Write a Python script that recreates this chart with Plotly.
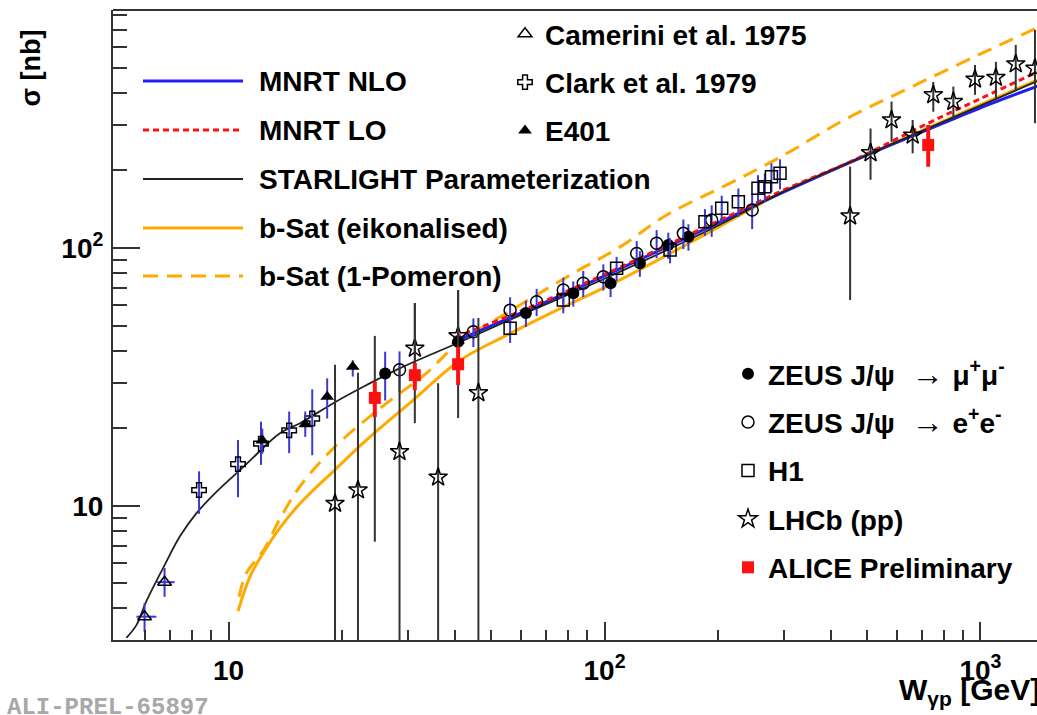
import plotly.graph_objects as go

# ---------------- data ----------------
# theory curves
starlight_w = [5.35, 5.69, 6.04, 6.70, 7.42, 8.21, 9.10, 11.1, 13.7, 15.5, 19.0, 23.3, 28.6, 41.3, 60, 100, 200, 293, 500, 1000, 1420]
starlight_s = [3.07, 3.44, 4.24, 5.73, 7.59, 9.34, 11.0, 14.4, 19.1, 20.9, 25.0, 29.4, 34.2, 43.2, 55, 76, 122, 163, 230, 357, 445]

mnrt_nlo_w = [41, 60, 100, 200, 300, 500, 700, 1000, 1420]
mnrt_nlo_s = [44, 56, 78, 125, 165, 230, 282, 350, 425]

mnrt_lo_w = [40, 60, 100, 200, 300, 450, 726, 1000, 1420]
mnrt_lo_s = [45, 57, 79, 127, 168, 216, 305, 380, 483]

bsat_eik_w = [10.6, 11.4, 12.4, 13.7, 15.5, 19.0, 23.3, 31.0, 41.3, 55, 74.7, 110, 200, 293, 500, 1000, 1413]
bsat_eik_s = [3.9, 5.3, 6.6, 8.2, 10.2, 13.6, 18.0, 25.7, 36.7, 45.9, 57.4, 75.2, 120, 163, 230, 360, 448]

bsat_1p_w = [10.67, 11.15, 12.4, 13.7, 15.5, 19.0, 25.3, 33.6, 40.4, 59.6, 82.6, 110, 146, 220, 293, 441, 662, 997, 1413]
bsat_1p_s = [4.43, 5.47, 6.73, 8.9, 11.9, 16.7, 23.9, 32.7, 42.1, 60.1, 79.8, 101, 134, 181, 225, 318, 425, 565, 715]

# data points
camerini_w = [5.98, 6.76]
camerini_s = [3.71, 5.05]
camerini_eup = [0.48, 0.68]
camerini_edn = [0.47, 0.62]
camerini_wup = [0.45, 0.43]
camerini_wdn = [0.29, 0.33]

clark_w = [8.35, 10.6, 12.2, 14.5, 16.7]
clark_s = [11.5, 14.5, 17.4, 19.6, 21.8]
clark_eup = [2.1, 3.5, 3.8, 3.6, 6.5]
clark_edn = [2.2, 3.7, 3.0, 3.6, 6.1]

e401_w = [12.3, 16.0, 18.3, 21.4]
e401_s = [17.9, 20.7, 26.5, 34.6]
e401_eup = [2.0, 2.5, 4.7, 2.1]
e401_edn = [2.0, 2.2, 4.7, 2.9]

zeus_mu_w = [26.1, 40.8, 61.8, 82.6, 103.8, 124.2, 147.8, 167.2]
zeus_mu_s = [32.6, 43.3, 55.9, 66.7, 73.0, 87.3, 102.7, 110.6]
zeus_mu_e = [7.0, 5.0, 6.5, 7.5, 8.5, 10, 12, 13]

zeus_ee_w = [28.5, 44.8, 56.1, 66.0, 77.7, 87.8, 99.3, 121.8, 137.6, 162.1, 192.8, 247]
zeus_ee_s = [33.7, 47.3, 57.4, 61.9, 68.7, 73.0, 77.4, 95.3, 104.3, 114, 128.5, 140.4]
zeus_ee_e = [6.0, 6.0, 7.0, 7.5, 8.0, 8.5, 9.0, 11, 13, 15, 18, 22]

h1_w = [56.1, 77.7, 107.7, 149.4, 185, 205, 227, 256, 267, 278, 293]
h1_s = [48.8, 62.8, 83.4, 98.2, 126.5, 142.6, 151.3, 170.6, 173, 189.1, 194.9]
h1_e = [6, 7, 9, 11, 15, 17, 19, 21, 22, 24, 26]

lhcb_w = [19.2, 22.1, 28.5, 31.3, 36.1, 40.8, 46.2, 450, 510, 580, 660, 749, 847, 967, 1099, 1241, 1396]
lhcb_s = [10.2, 11.5, 16.2, 40.8, 12.9, 45.6, 27.4, 133, 234, 314, 274, 393, 370, 452, 459, 518, 498]
lhcb_hi = [35.2, 32.8, 34.6, 61.2, 29.9, 68.7, 53.5, 207, 291, 370, 314, 441, 423, 513, 528, 614, 702]
lhcb_lo = [0.5, 0.5, 0.5, 28.1, 0.5, 35.0, 0.5, 62.8, 184, 258, 233, 338, 314, 393, 381, 410, 305]

alice_w = [24.5, 31.3, 40.8, 726]
alice_s = [26.2, 32.1, 35.4, 251]
alice_stat_hi = [30.3, 35.8, 41.4, 300]
alice_stat_lo = [22.1, 28.1, 29.4, 207]
alice_tot_hi = [45.6, 61.2, 68.7, 300]
alice_tot_lo = [7.25, 20.9, 21.9, 207]

# ---------------- styling ----------------
FONT = "Liberation Sans, Arial, Helvetica, sans-serif"
BLUE = "#2020f0"
RED = "#ff1010"
ORANGE = "#ffaa00"
EBLUE = "#3a3ad0"
FRAME = "#333333"

fig = go.Figure()

def sub(a, b):
    return [x - y for x, y in zip(a, b)]

# curves
fig.add_trace(go.Scatter(x=bsat_1p_w, y=bsat_1p_s, mode="lines", line=dict(color=ORANGE, width=3, dash="15px,9px"),
                         line_shape="spline", showlegend=False, hoverinfo="skip"))
fig.add_trace(go.Scatter(x=bsat_eik_w, y=bsat_eik_s, mode="lines", line=dict(color=ORANGE, width=3),
                         line_shape="spline", showlegend=False, hoverinfo="skip"))
fig.add_trace(go.Scatter(x=mnrt_nlo_w, y=mnrt_nlo_s, mode="lines", line=dict(color=BLUE, width=3),
                         line_shape="spline", showlegend=False, hoverinfo="skip"))
fig.add_trace(go.Scatter(x=mnrt_lo_w, y=mnrt_lo_s, mode="lines", line=dict(color=RED, width=3, dash="6px,4px"),
                         line_shape="spline", showlegend=False, hoverinfo="skip"))
fig.add_trace(go.Scatter(x=starlight_w, y=starlight_s, mode="lines", line=dict(color="#222222", width=1.8),
                         line_shape="spline", showlegend=False, hoverinfo="skip"))

MK = 12
LEGFONT = dict(family=FONT, size=28, color="black", weight="bold")
# legend 2 (top centre)
fig.add_trace(go.Scatter(x=camerini_w, y=camerini_s, mode="markers", name="Camerini et al. 1975",
                         marker=dict(symbol="triangle-up-open", size=MK, color="black", line=dict(width=1.5)),
                         error_y=dict(type="data", symmetric=False, array=camerini_eup, arrayminus=camerini_edn,
                                      color=EBLUE, thickness=2, width=0),
                         error_x=dict(type="data", symmetric=False, array=camerini_wup, arrayminus=camerini_wdn,
                                      color=EBLUE, thickness=2, width=0),
                         legend="legend2", legendgroup="g1"))
fig.add_trace(go.Scatter(x=clark_w, y=clark_s, mode="markers", name="Clark et al. 1979",
                         marker=dict(symbol="cross-open", size=MK, color="black", line=dict(width=1.5)),
                         error_y=dict(type="data", symmetric=False, array=clark_eup, arrayminus=clark_edn,
                                      color=EBLUE, thickness=2, width=0),
                         legend="legend2", legendgroup="g2"))
fig.add_trace(go.Scatter(x=e401_w, y=e401_s, mode="markers", name="E401",
                         marker=dict(symbol="triangle-up", size=MK, color="black"),
                         error_y=dict(type="data", symmetric=False, array=e401_eup, arrayminus=e401_edn,
                                      color=EBLUE, thickness=2, width=0),
                         legend="legend2", legendgroup="g3"))

# legend 3 (right)
ARROW = "<span style='font-weight:normal;font-size:32px'> → </span>"
fig.add_trace(go.Scatter(x=zeus_mu_w, y=zeus_mu_s, mode="markers",
                         name="ZEUS J/ψ " + ARROW + "μ<sup>+</sup>μ<sup>-</sup>",
                         marker=dict(symbol="circle", size=12, color="black"),
                         error_y=dict(type="data", array=zeus_mu_e, color=EBLUE, thickness=2, width=0),
                         legend="legend3", legendgroup="h1"))
fig.add_trace(go.Scatter(x=zeus_ee_w, y=zeus_ee_s, mode="markers",
                         name="ZEUS J/ψ " + ARROW + "e<sup>+</sup>e<sup>-</sup>",
                         marker=dict(symbol="circle-open", size=12, color="black", line=dict(width=1.5)),
                         error_y=dict(type="data", array=zeus_ee_e, color=EBLUE, thickness=2, width=0),
                         legend="legend3", legendgroup="h2"))
fig.add_trace(go.Scatter(x=h1_w, y=h1_s, mode="markers", name="H1",
                         marker=dict(symbol="square-open", size=12, color="black", line=dict(width=1.5)),
                         error_y=dict(type="data", array=h1_e, color=EBLUE, thickness=2, width=0),
                         legend="legend3", legendgroup="h3"))
fig.add_trace(go.Scatter(x=lhcb_w, y=lhcb_s, mode="markers", name="LHCb (pp)",
                         marker=dict(symbol="star-open", size=14, color="black", line=dict(width=1.5)),
                         error_y=dict(type="data", symmetric=False, array=sub(lhcb_hi, lhcb_s),
                                      arrayminus=sub(lhcb_s, lhcb_lo), color="#333333", thickness=2, width=0),
                         legend="legend3", legendgroup="h4"))
fig.add_trace(go.Scatter(x=alice_w, y=alice_s, mode="markers", showlegend=False,
                         marker=dict(size=1, color="rgba(0,0,0,0)"),
                         error_y=dict(type="data", symmetric=False, array=sub(alice_tot_hi, alice_s),
                                      arrayminus=sub(alice_s, alice_tot_lo), color="#333333", thickness=2, width=0),
                         hoverinfo="skip"))
fig.add_trace(go.Scatter(x=alice_w, y=alice_s, mode="markers", name="ALICE Preliminary",
                         marker=dict(symbol="square", size=12, color=RED),
                         error_y=dict(type="data", symmetric=False, array=sub(alice_stat_hi, alice_s),
                                      arrayminus=sub(alice_s, alice_stat_lo), color=RED, thickness=4, width=0),
                         legend="legend3", legendgroup="h5"))

# ---------------- layout ----------------
W, H = 1037, 715
ML, MR, MT, MB = 113, 0, 10, 75
PW, PH = W - ML - MR, H - MT - MB

def px(xp):
    return (xp - ML) / PW

def py(yp):
    return (H - MB - yp) / PH

x_minor = [6, 7, 8, 9, 20, 30, 40, 50, 60, 70, 80, 90, 200, 300, 400, 500, 600, 700, 800, 900]
y_minor = [4, 5, 6, 7, 8, 9, 20, 30, 40, 50, 60, 70, 80, 90, 200, 300, 400, 500, 600, 700, 800]

tickfont = dict(family=FONT, size=28, color="black", weight="bold")

fig.update_layout(
    width=W, height=H,
    margin=dict(l=ML, r=MR, t=MT, b=MB, autoexpand=False),
    paper_bgcolor="white", plot_bgcolor="white",
    font=dict(family=FONT, color="black"),
    xaxis=dict(type="log", range=[0.6928, 3.1503], showgrid=False, zeroline=False, automargin=False,
               showline=True, linewidth=2, linecolor=FRAME, mirror=False,
               ticks="inside", ticklen=18, tickwidth=2, tickcolor=FRAME,
               tickvals=[10, 100, 1000], ticktext=["10", "10<sup>2</sup>", "10<sup>3</sup>"],
               tickfont=tickfont, ticklabelstandoff=4,
               minor=dict(tickvals=x_minor, ticks="inside", ticklen=10, tickwidth=2, tickcolor=FRAME, showgrid=False)),
    yaxis=dict(type="log", range=[0.4789, 2.9236], showgrid=False, zeroline=False, automargin=False,
               showline=True, linewidth=2, linecolor=FRAME, mirror=False,
               ticks="inside", ticklen=27, tickwidth=2, tickcolor=FRAME,
               tickvals=[10, 100], ticktext=["10", "10<sup>2</sup>"],
               tickfont=tickfont, ticklabelstandoff=2,
               minor=dict(tickvals=y_minor, ticks="inside", ticklen=14, tickwidth=2, tickcolor=FRAME, showgrid=False)),
    legend2=dict(x=px(505), y=py(9), xanchor="left", yanchor="top", bgcolor="rgba(0,0,0,0)",
                 font=LEGFONT, traceorder="grouped", tracegroupgap=9, itemclick=False),
    legend3=dict(x=px(728), y=py(349), xanchor="left", yanchor="top", bgcolor="rgba(0,0,0,0)",
                 font=LEGFONT, traceorder="grouped", tracegroupgap=9, itemclick=False),
    showlegend=True,
)

# top frame line
fig.add_shape(type="line", xref="paper", yref="paper", x0=0, x1=1, y0=1, y1=1,
              line=dict(color=FRAME, width=2))

# legend 1 (manual, lines)
leg1 = [
    ("MNRT NLO", dict(color=BLUE, width=3), 81),
    ("MNRT LO", dict(color=RED, width=3, dash="6px,4px"), 130),
    ("STARLIGHT Parameterization", dict(color="#222222", width=2), 179),
    ("b-Sat (eikonalised)", dict(color=ORANGE, width=3), 228),
    ("b-Sat (1-Pomeron)", dict(color=ORANGE, width=3, dash="15px,9px"), 276),
]
for label, ln, yp in leg1:
    fig.add_shape(type="line", xref="paper", yref="paper", x0=px(143), x1=px(243), y0=py(yp), y1=py(yp), line=ln)
    fig.add_annotation(text=label, xref="paper", yref="paper", x=px(257), y=py(yp), xanchor="left", yanchor="middle",
                       showarrow=False, font=LEGFONT)

# axis titles
fig.add_annotation(text="σ [nb]", xref="paper", yref="paper", x=px(30), y=py(28), xanchor="center", yanchor="top",
                   textangle=-90, showarrow=False, font=dict(family=FONT, size=27, color="black", weight="bold"))
fig.add_annotation(text="W<sub>γp</sub> [GeV]", xref="paper", yref="paper", x=px(1042), y=py(712),
                   xanchor="right", yanchor="bottom", showarrow=False,
                   font=dict(family=FONT, size=30, color="black", weight="bold"))
fig.add_annotation(text="ALI-PREL-65897", xref="paper", yref="paper", x=px(5), y=py(707), xanchor="left",
                   yanchor="middle", showarrow=False,
                   font=dict(family="Liberation Mono, DejaVu Sans Mono, monospace", size=24, color="#a8a8a8", weight="bold"))

fig.write_html("out.html",
               config={"displayModeBar": False},
               post_script="document.body.style.margin='0px';document.body.style.padding='0px';"
                           "document.body.style.overflow='hidden';document.documentElement.style.overflow='hidden';")
